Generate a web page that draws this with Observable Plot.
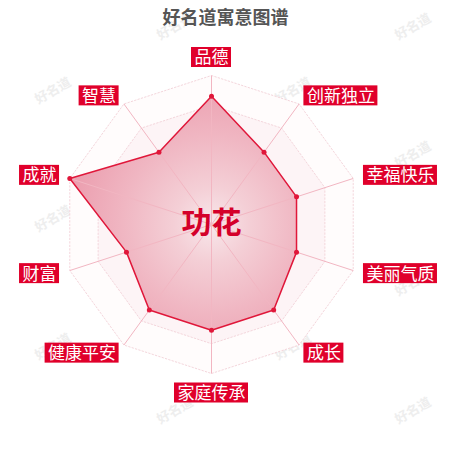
<!DOCTYPE html>
<html><head><meta charset="utf-8">
<script src="https://cdn.jsdelivr.net/npm/d3@7"></script>
<script src="https://cdn.jsdelivr.net/npm/@observablehq/plot@0.6"></script>
<style>body{margin:0;background:#fff}</style>
</head><body><div id="chart"></div>
<script>
const indicators = ["品德","创新独立","幸福快乐","美丽气质","成长","家庭传承","健康平安","财富","成就","智慧"];
const values = [86, 60, 60, 60, 71, 71, 71, 60, 100, 60];
const maxValue = 100;
const ringLevels = [1.0, 0.8, 0.6, 0.4, 0.2];
const ringColors = ["#fffcfc", "#fdf4f6", "#fcf0f2", "#fbecef", "#fcf2f4"];
const title = "好名道寓意图谱";
const centerName = "功花";
const watermark = "好名道";

const W = 450, H = 450;
const cx = 211, cy = 224, R = 149;
const n = indicators.length;
const ang = i => i * 2 * Math.PI / n;
const px = (i, r) => r * Math.sin(ang(i));
const py = (i, r) => r * Math.cos(ang(i));

const idx = d3.range(n);
const dataPts = idx.map(i => ({i, x: px(i, values[i] / maxValue), y: py(i, values[i] / maxValue)}));
const ringPts = ringLevels.flatMap(l => idx.map(i => ({level: l, x: px(i, l), y: py(i, l)})));

const RED = "#e0173a";
const font = "Noto Sans CJK SC, Noto Sans, sans-serif";

const marks = [];

// watermarks (regular staggered pattern)
for (let k = 0; k < 7; k++) {
  const xs = k % 2 === 0 ? [172, 410] : [50, 290];
  for (const x0 of xs) {
    marks.push(Plot.text([watermark], {text: d => d, frameAnchor: "top-left", textAnchor: "middle",
      dx: x0, dy: 22 + 64 * k, rotate: -30, fill: "#eeeeee", fontSize: 13, fontWeight: "bold"}));
  }
}

// gradient defs
marks.push((index, scales) => {
  const defs = d3.create("svg:defs");
  const g = defs.append("radialGradient").attr("id", "areaGrad")
    .attr("gradientUnits", "userSpaceOnUse")
    .attr("cx", scales.x(0)).attr("cy", scales.y(0))
    .attr("r", Math.abs(scales.x(1) - scales.x(0)));
  g.append("stop").attr("offset", "0").attr("stop-color", "#f8e8eb");
  g.append("stop").attr("offset", "0.25").attr("stop-color", "#f4cfd6");
  g.append("stop").attr("offset", "0.6").attr("stop-color", "#f0b6c2");
  g.append("stop").attr("offset", "1").attr("stop-color", "#eb9cad");
  return defs.node();
});

// split areas
ringLevels.forEach((l, k) => {
  marks.push(Plot.line(ringPts.filter(d => d.level === l), {x: "x", y: "y", curve: "linear-closed", fill: ringColors[k], stroke: "none"}));
});
// split lines
marks.push(Plot.line(ringPts, {x: "x", y: "y", z: "level", curve: "linear-closed", stroke: "#f4d6dc", strokeWidth: 1, strokeDasharray: "1.5,2"}));

// data area
marks.push(Plot.line(dataPts, {x: "x", y: "y", curve: "linear-closed", fill: "url(#areaGrad)", stroke: RED, strokeWidth: 1.5}));

// axis lines
marks.push(Plot.link(idx, {x1: 0, y1: 0, x2: i => px(i, 1), y2: i => py(i, 1), stroke: "#f2b6c2", strokeWidth: 1}));

// points
marks.push(Plot.dot(dataPts, {x: "x", y: "y", r: 2.5, fill: RED, stroke: "none"}));

// indicator labels
const labelR = (R + 15) / R;
idx.forEach(i => {
  const s = Math.sin(ang(i)), c = Math.cos(ang(i));
  const w = 17 * indicators[i].length + 6;
  let anchor, dy, left;
  if (Math.abs(s) < 0.01) {
    anchor = "middle"; dy = c > 0 ? -3 : 4.5; left = -w / 2;
  } else if (s > 0) {
    anchor = "start"; dy = 5 * c; left = -4;
  } else {
    anchor = "end"; dy = 5 * c; left = 4 - w;
  }
  const d = {x: px(i, labelR), y: py(i, labelR), t: indicators[i]};
  marks.push(Plot.rect([d], {x1: "x", x2: "x", y1: "y", y2: "y", fill: "#e0002b",
    insetLeft: left, insetRight: -(left + w), insetTop: dy - 10, insetBottom: -10 - dy}));
  marks.push(Plot.text([d], {x: "x", y: "y", text: "t", textAnchor: anchor,
    dx: anchor === "start" ? -1 : anchor === "end" ? 1 : 0, dy: dy + 0.5,
    fill: "#fff", fontSize: 17}));
});

// center name
marks.push(Plot.text([centerName], {x: 0, y: 0, text: d => d, dy: -1, fill: "#d4002a", fontSize: 30, fontWeight: "bold"}));

// title
marks.push(Plot.text([title], {text: d => d, frameAnchor: "top", dy: 11, fill: "#555", fontSize: 18, fontWeight: "bold"}));

const chart = Plot.plot({
  width: W, height: H,
  margin: 0,
  style: {fontFamily: font, background: "#fff", overflow: "visible"},
  x: {domain: [-cx / R, (W - cx) / R], axis: null},
  y: {domain: [-(H - cy) / R, cy / R], axis: null},
  marks
});
document.getElementById("chart").appendChild(chart);
</script>
</body></html>
